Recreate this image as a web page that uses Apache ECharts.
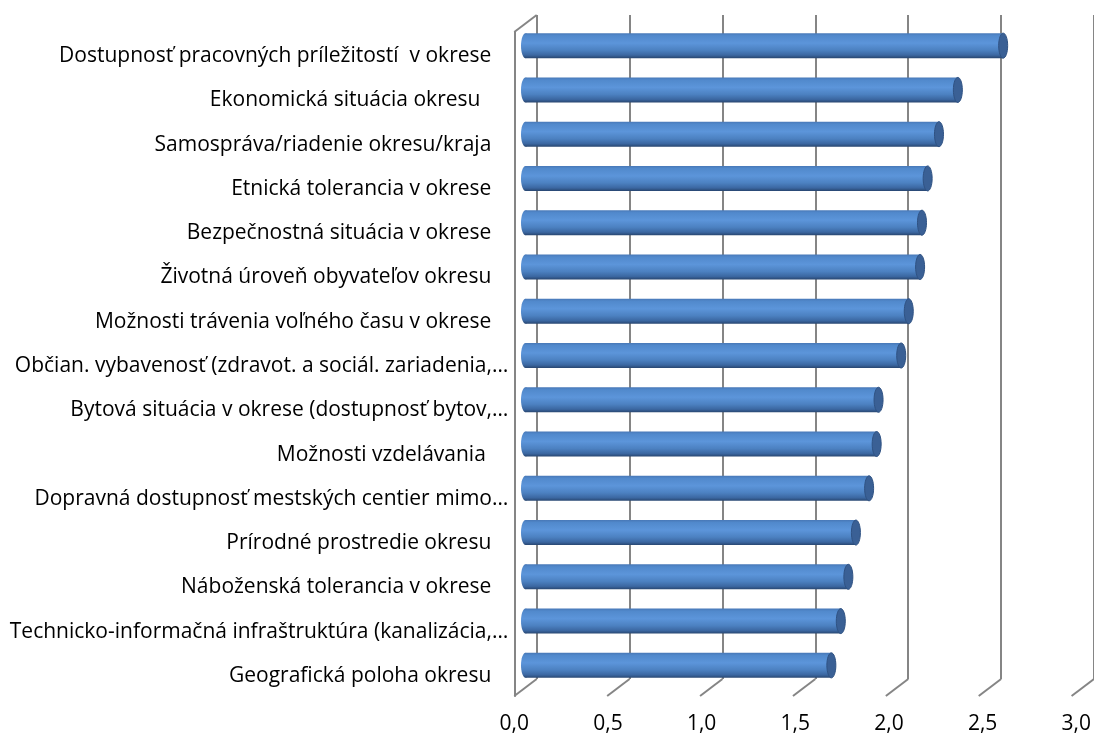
<!DOCTYPE html>
<html>
<head>
<meta charset="utf-8">
<script src="https://cdn.jsdelivr.net/npm/echarts@6/dist/echarts.min.js"></script>
<style>
  html, body { margin: 0; padding: 0; background: #fff; }
  #chart { width: 1094px; height: 736px; }
</style>
</head>
<body>
<div id="chart"></div>
<script>
// ---- data ----
const categories = [
  "Dostupnosť pracovných príležitostí  v okrese",
  "Ekonomická situácia okresu  ",
  "Samospráva/riadenie okresu/kraja",
  "Etnická tolerancia v okrese",
  "Bezpečnostná situácia v okrese",
  "Životná úroveň obyvateľov okresu",
  "Možnosti trávenia voľného času v okrese",
  "Občian. vybavenosť (zdravot. a sociál. zariadenia,…",
  "Bytová situácia v okrese (dostupnosť bytov,…",
  "Možnosti vzdelávania ",
  "Dopravná dostupnosť mestských centier mimo…",
  "Prírodné prostredie okresu",
  "Náboženská tolerancia v okrese",
  "Technicko-informačná infraštruktúra (kanalizácia,…",
  "Geografická poloha okresu"
];
const values = [2.53, 2.29, 2.19, 2.13, 2.10, 2.09, 2.03, 1.99, 1.87, 1.86, 1.82, 1.75, 1.71, 1.67, 1.62];
const xTicks = [0, 0.5, 1.0, 1.5, 2.0, 2.5, 3.0];

// ---- layout / style ----
const FONT = "Open Sans";
const FS = 21;
const GRID_W = 566.4, GRID_H = 664;
const FRONT_L = 514.3, FRONT_T = 32;
const DX = 22.4, DY = 17;   // depth offset front -> back
const LINE_COLOR = '#858585';
const LINE_W = 2;

const chart = echarts.init(document.getElementById('chart'), null, { renderer: 'canvas' });

const barGrad = () => new echarts.graphic.LinearGradient(0, 0, 0, 1, [
  { offset: 0.00, color: '#4878b7' },
  { offset: 0.10, color: '#5189cc' },
  { offset: 0.40, color: '#5c95da' },
  { offset: 0.68, color: '#4c81c1' },
  { offset: 0.88, color: '#3b67a1' },
  { offset: 1.00, color: '#284670' }
]);

function hiddenValueAxis(gi) {
  return { gridIndex: gi, type: 'value', min: 0, max: 3, interval: 0.5,
    axisLine: { show: false }, axisTick: { show: false }, axisLabel: { show: false },
    splitLine: { show: false } };
}

const option = {
  backgroundColor: '#ffffff',
  animation: false,
  grid: [
    { left: FRONT_L + DX, top: FRONT_T - DY, width: GRID_W, height: GRID_H },          // back wall
    { left: FRONT_L + DX / 2, top: FRONT_T - DY / 2, width: GRID_W, height: GRID_H },  // bar plane
    { left: FRONT_L, top: FRONT_T, width: GRID_W, height: GRID_H }                     // front
  ],
  xAxis: [
    Object.assign(hiddenValueAxis(0), {
      splitLine: { show: true, lineStyle: { color: LINE_COLOR, width: LINE_W } }
    }),
    hiddenValueAxis(1),
    Object.assign(hiddenValueAxis(2), {
      axisLabel: {
        show: true, margin: 18, color: '#000', fontFamily: FONT, fontSize: FS,
        formatter: v => v.toFixed(1).replace('.', ',')
      }
    })
  ],
  yAxis: [
    { gridIndex: 0, type: 'category', data: categories, inverse: true, show: false },
    { gridIndex: 1, type: 'category', data: categories, inverse: true, show: false },
    { gridIndex: 2, type: 'category', data: categories, inverse: true,
      axisLine: { show: true, lineStyle: { color: LINE_COLOR, width: LINE_W } },
      axisTick: { show: false },
      splitLine: { show: false },
      axisLabel: {
        margin: 6, color: '#000', fontFamily: FONT, fontSize: FS,
        formatter: v => v.endsWith('…') ? '{e|' + v + '}' : '{n|' + v + '}',
        rich: {
          e: { color: '#000', fontFamily: FONT, fontSize: FS, padding: [4, 0, 0, 0] },
          n: { color: '#000', fontFamily: FONT, fontSize: FS, padding: [4, 17, 0, 0] }
        }
      }
    }
  ],
  series: [
    {
      // floor / side-wall depth lines
      type: 'custom', xAxisIndex: 0, yAxisIndex: 0, silent: true, z: 1,
      data: xTicks.map(v => [v, 0]),
      renderItem: (params, api) => {
        const cs = params.coordSys;
        const x = api.coord([api.value(0), 0])[0];
        const yb = cs.y + cs.height;
        const st = { stroke: LINE_COLOR, lineWidth: LINE_W };
        const children = [{ type: 'line', shape: { x1: x, y1: yb, x2: x - DX, y2: yb + DY }, style: st }];
        if (api.value(0) === 0) {
          children.push({ type: 'line', shape: { x1: x, y1: cs.y, x2: x - DX, y2: cs.y + DY }, style: st });
        }
        return { type: 'group', children };
      }
    },
    {
      // cylinders
      type: 'custom', xAxisIndex: 1, yAxisIndex: 1, z: 3,
      data: values.map((v, i) => [v, categories[i]]),
      renderItem: (params, api) => {
        const cat = api.value(1);
        const p = api.coord([api.value(0), cat]);
        const p0 = api.coord([0, cat]);
        const band = api.size([0, 1])[1];
        const h = band * 0.565;
        const rx = 4.5;
        const y = p[1] - h / 2;
        return {
          type: 'group',
          children: [
            { type: 'ellipse', shape: { cx: p0[0], cy: p[1], rx: rx, ry: h / 2 }, style: { fill: barGrad() } },
            { type: 'rect', shape: { x: p0[0], y: y, width: p[0] - p0[0], height: h }, style: { fill: barGrad() } },
            { type: 'ellipse', shape: { cx: p[0], cy: p[1], rx: rx, ry: h / 2 },
              style: { fill: '#3a6095', stroke: '#2f5283', lineWidth: 1 } }
          ]
        };
      }
    }
  ]
};
chart.setOption(option);
</script>
</body>
</html>
